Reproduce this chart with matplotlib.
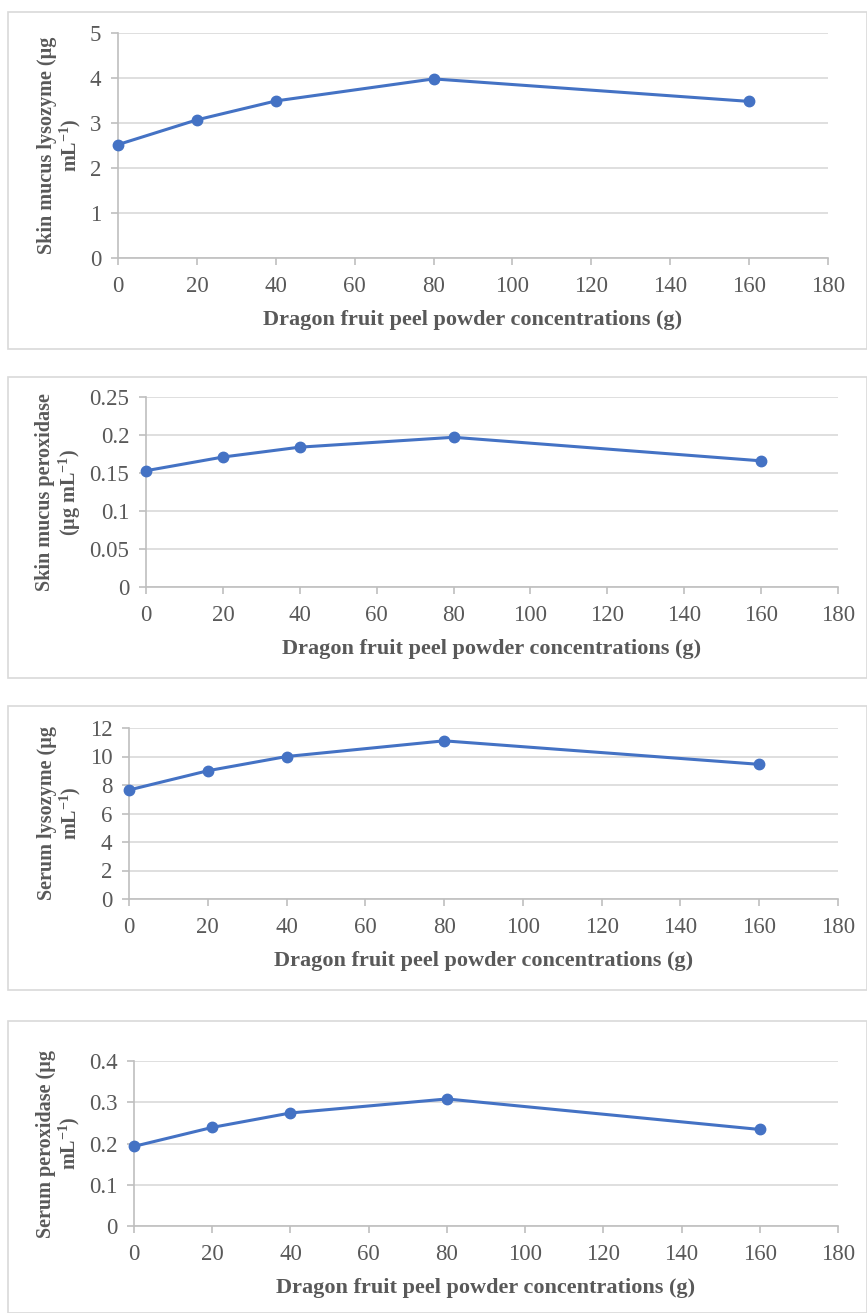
import matplotlib
matplotlib.use("Agg")
import matplotlib.pyplot as plt
from matplotlib.patches import Rectangle

x_conc = [0, 20, 40, 80, 160]
skin_lysozyme = [2.52, 3.07, 3.49, 3.98, 3.48]
skin_peroxidase = [0.153, 0.171, 0.184, 0.197, 0.166]
serum_lysozyme = [7.65, 9.0, 10.0, 11.1, 9.45]
serum_peroxidase = [0.193, 0.239, 0.274, 0.308, 0.234]

ylabels = [
    "Skin mucus lysozyme (µg\nmL$^{-1}$)",
    "Skin mucus peroxidase\n(µg mL$^{-1}$)",
    "Serum lysozyme (µg\nmL$^{-1}$)",
    "Serum peroxidase (µg\nmL$^{-1}$)",
]
yticks = [
    [0, 1, 2, 3, 4, 5],
    [0, 0.05, 0.1, 0.15, 0.2, 0.25],
    [0, 2, 4, 6, 8, 10, 12],
    [0, 0.1, 0.2, 0.3, 0.4],
]
ytick_labels = [
    ["0", "1", "2", "3", "4", "5"],
    ["0", "0.05", "0.1", "0.15", "0.2", "0.25"],
    ["0", "2", "4", "6", "8", "10", "12"],
    ["0", "0.1", "0.2", "0.3", "0.4"],
]
xticks = [0, 20, 40, 60, 80, 100, 120, 140, 160, 180]
xlabel = "Dragon fruit peel powder concentrations (g)"
series = [skin_lysozyme, skin_peroxidase, serum_lysozyme, serum_peroxidase]

plt.rcParams['font.family'] = ['Liberation Serif', 'DejaVu Serif']
plt.rcParams['mathtext.fontset'] = 'custom'
plt.rcParams['mathtext.rm'] = 'Liberation Serif'
plt.rcParams['mathtext.bf'] = 'Liberation Serif:bold'
plt.rcParams['mathtext.default'] = 'bf'

W, H = 867, 1313
fig = plt.figure(figsize=(W / 100, H / 100), dpi=100)

# pixel layouts: (axes left, right, top, bottom), (box top, box bottom)
layouts = [
    ((118, 828, 33, 258), (12, 349)),
    ((146, 838, 397, 587), (377, 678)),
    ((129, 838, 728, 899), (706, 990)),
    ((134, 838, 1061, 1226), (1021, 1313)),
]

line_color = "#4472C4"
text_gray = "#595959"
grid_gray = "#d9d9d9"

for i, ((l, r, t, b), (bt, bb)) in enumerate(layouts):
    fig.patches.append(Rectangle((8 / W, 1 - bb / H), (W - 8) / W, (bb - bt) / H,
                                 transform=fig.transFigure, fill=False,
                                 edgecolor=grid_gray, linewidth=1.2))
    ax = fig.add_axes([l / W, 1 - b / H, (r - l) / W, (b - t) / H])
    ax.plot(x_conc, series[i], color=line_color, linewidth=2.2, marker='o',
            markersize=7.5, markerfacecolor=line_color, markeredgecolor=line_color,
            clip_on=False, zorder=3)
    ax.set_xlim(0, 180)
    ax.set_ylim(yticks[i][0], yticks[i][-1])
    ax.set_xticks(xticks)
    ax.set_xticklabels([str(v) for v in xticks])
    ax.set_yticks(yticks[i])
    ax.set_yticklabels(ytick_labels[i])
    ax.yaxis.grid(True, color=grid_gray, linewidth=1.2)
    ax.set_axisbelow(True)
    for s in ['top', 'right']:
        ax.spines[s].set_visible(False)
    for s in ['left', 'bottom']:
        ax.spines[s].set_color("#bfbfbf")
        ax.spines[s].set_linewidth(1.2)
    ax.tick_params(axis='both', direction='out', length=5, width=1.2,
                   color="#bfbfbf", labelsize=16.5, labelcolor=text_gray)
    ax.tick_params(axis='x', pad=8)
    ax.tick_params(axis='y', pad=7)
    ax.set_xlabel(xlabel, fontsize=16, fontweight='bold', color=text_gray, labelpad=9)
    ax.set_ylabel(ylabels[i], fontsize=14.5, fontweight='bold', color=text_gray,
                  labelpad=5, linespacing=1.05)

fig.savefig("out.png", dpi=100)
